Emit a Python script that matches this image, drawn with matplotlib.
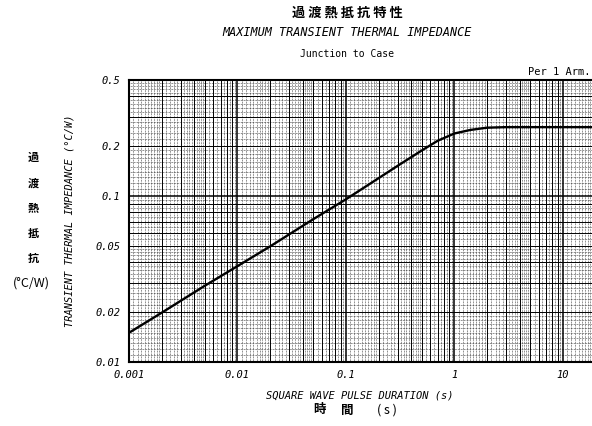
import numpy as np
import matplotlib
matplotlib.use('Agg')
import matplotlib.pyplot as plt
from matplotlib.ticker import FixedLocator, FixedFormatter, NullLocator

# curve (pulse duration [s], Zth [C/W])
t_s = [0.001, 0.002, 0.005, 0.01, 0.02, 0.05, 0.1, 0.2, 0.3, 0.5, 0.7, 1.0, 1.4, 2.0, 3.0, 5.0, 10.0, 20.0]
z_cw = [0.0150, 0.0198, 0.0288, 0.0378, 0.0497, 0.0725, 0.0955, 0.128, 0.152, 0.188, 0.215, 0.238,
        0.250, 0.258, 0.260, 0.260, 0.260, 0.260]

x_ticks = [0.001, 0.01, 0.1, 1, 10]
x_labels = ['0.001', '0.01', '0.1', '1', '10']
y_ticks = [0.01, 0.02, 0.05, 0.1, 0.2, 0.5]
y_labels = ['0.01', '0.02', '0.05', '0.1', '0.2', '0.5']

cjk = ['Noto Sans CJK JP', 'DejaVu Sans']
mono = 'DejaVu Sans Mono'

fig = plt.figure(figsize=(5.92, 4.26), dpi=100)
ax = fig.add_axes([129/592, 1-362/426, 1-129/592, (362-80)/426])
ax.set_xscale('log')
ax.set_yscale('log')
ax.set_xlim(0.001, 18.6)
ax.set_ylim(0.01, 0.5)

# log paper grid
def paper_lines(lo, hi):
    solid, fine = [], []
    d = 10.0 ** np.floor(np.log10(lo))
    while d < hi * 10:
        for m in range(1, 10):
            v = m * d
            if lo <= v <= hi:
                solid.append((v, m == 1))
        for m in list(np.arange(1.1, 2.0, 0.1)) + list(np.arange(2.2, 5.0, 0.2)) + list(np.arange(5.5, 10.0, 0.5)):
            v = m * d
            if lo <= v <= hi and abs(m - round(m)) > 1e-6:
                fine.append(v)
        d *= 10
    return solid, fine

xs, xf = paper_lines(0.001, 18.6)
ys, yf = paper_lines(0.01, 0.5)
for v in xf:
    ax.axvline(v, color='#222222', lw=0.5, ls=(0, (1, 1.2)), zorder=1)
for v in yf:
    ax.axhline(v, color='#222222', lw=0.5, ls=(0, (1, 1.2)), zorder=1)
for v, major in xs:
    ax.axvline(v, color='black', lw=1.1 if major else 0.7, zorder=2)
for v, major in ys:
    ax.axhline(v, color='black', lw=1.1 if major else 0.7, zorder=2)

ax.plot(t_s, z_cw, color='black', lw=1.7, zorder=5)

ax.xaxis.set_major_locator(FixedLocator(x_ticks))
ax.xaxis.set_major_formatter(FixedFormatter(x_labels))
ax.yaxis.set_major_locator(FixedLocator(y_ticks))
ax.yaxis.set_major_formatter(FixedFormatter(y_labels))
ax.xaxis.set_minor_locator(NullLocator())
ax.yaxis.set_minor_locator(NullLocator())
ax.tick_params(length=0, labelsize=7.5, pad=6)
for lab in ax.get_xticklabels() + ax.get_yticklabels():
    lab.set_family(mono)
    lab.set_style('italic')
ax.spines['right'].set_visible(False)
for s in ['left', 'bottom', 'top']:
    ax.spines[s].set_linewidth(1.5)

# titles
fig.text(347/592, 1-13/426, '過 渡 熱 抵 抗 特 性', family=cjk, fontsize=9.5, weight='bold', ha='center', va='center')
fig.text(347/592, 1-33/426, 'MAXIMUM TRANSIENT THERMAL IMPEDANCE', family=mono, style='italic', fontsize=8.5, ha='center', va='center')
fig.text(347/592, 1-54/426, 'Junction to Case', family=mono, fontsize=7, ha='center', va='center')
fig.text(590/592, 1-72/426, 'Per 1 Arm.', family=mono, fontsize=7.5, ha='right', va='center')

# axis labels
fig.text(70/592, 1-221/426, 'TRANSIENT THERMAL IMPEDANCE (°C/W)', family=mono, style='italic', fontsize=7.5,
         rotation=90, ha='center', va='center')
for ch, yy in zip(['過', '渡', '熱', '抵', '抗'], [157, 183, 208, 233, 258]):
    fig.text(33/592, 1-yy/426, ch, family=cjk, fontsize=8, weight='bold', ha='center', va='center')
fig.text(31/592, 1-283/426, '(°C/W)', family=cjk, fontsize=9, ha='center', va='center')

fig.text(360/592, 1-396/426, 'SQUARE WAVE PULSE DURATION (s)', family=mono, style='italic', fontsize=7.5,
         ha='center', va='center')
fig.text(320/592, 1-410/426, '時', family=cjk, fontsize=9, weight='bold', ha='center', va='center')
fig.text(347/592, 1-410/426, '間', family=cjk, fontsize=9, weight='bold', ha='center', va='center')
fig.text(387/592, 1-410/426, '( s )', family=cjk, fontsize=9, ha='center', va='center')

fig.savefig('out.png', dpi=100)
